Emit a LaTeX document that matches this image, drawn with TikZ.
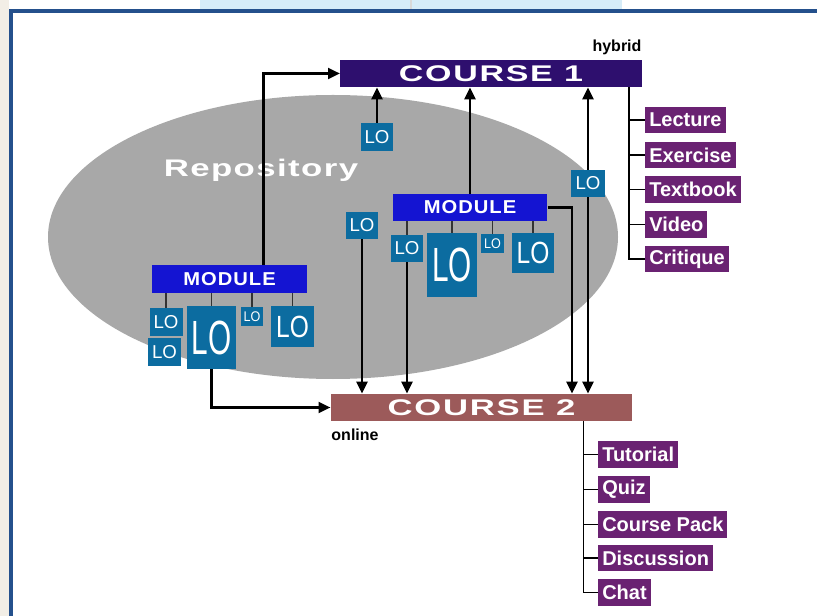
\documentclass[tikz,border=0pt]{standalone}
\usepackage{fontspec}
\setmainfont{Liberation Sans}
\usepackage{graphicx}
\usetikzlibrary{arrows.meta,calc}
\definecolor{framec}{HTML}{24508C}
\definecolor{repoc}{HTML}{A8A8A8}
\definecolor{loc}{HTML}{0C6CA0}
\definecolor{modc}{HTML}{1414D2}
\definecolor{cAc}{HTML}{2E0F6E}
\definecolor{cBc}{HTML}{9C5A5A}
\definecolor{listc}{HTML}{6A2272}
\definecolor{skyc}{HTML}{D6ECF8}
\definecolor{margc}{HTML}{F2EEE6}
\newcommand\LOtxt[2]{\fontsize{#1}{#1}\selectfont\scalebox{#2}[1]{LO}}
\newcommand\spacedtxt[4]{{\fontsize{#1}{#1}\selectfont\bfseries\addfontfeature{LetterSpace=#2}\scalebox{#3}[1]{#4}}}
\begin{document}
\begin{tikzpicture}[x=0.75pt,y=-0.75pt,
  box/.style={inner sep=0pt, text=white},
  course/.style={box, minimum width=226pt, minimum height=20.25pt},
  modbox/.style={box, fill=modc, minimum width=116pt, minimum height=20.5pt},
  lobox/.style 2 args={box, fill=loc, minimum width=#1, minimum height=#2},
  listbox/.style={fill=listc, text=white, anchor=west, inner xsep=3pt, inner ysep=0pt,
    minimum height=20pt, font=\bfseries\fontsize{15}{15}\selectfont},
  arr/.style={line width=2.2pt, -{Triangle[length=9pt,width=8pt]}},
  link/.style={line width=1.4pt, draw=black!80},
  trunk/.style={line width=1.4pt, draw=black},
  tag/.style={font=\bfseries\fontsize{12}{12}\selectfont, inner sep=0pt}]
\useasboundingbox (0,0) rectangle (817,616);
% background
\fill[white] (0,0) rectangle (817,616);
\fill[margc] (0,0) rectangle (8.5,616);
\fill[skyc] (200,0) rectangle (622,9.5);
\draw[line width=0.8pt, draw=black!15] (411,0) -- (411,9.5);
\fill[framec] (8.5,9.5) rectangle (817,13);
\fill[framec] (8.5,9.5) rectangle (12.5,616);
% repository
\fill[repoc] (333,237) ellipse [x radius=213.75pt, y radius=106.5pt];
\node[box] (repo) at (261,170) {\spacedtxt{18}{4}{1.45}{Repository}};
% courses
\node[course, fill=cAc] (c1) at (491,73.5) {\spacedtxt{17}{5}{1.5}{COURSE 1}};
\node[course, fill=cBc] (c2) at (481.5,407.5) {\spacedtxt{17}{5}{1.53}{COURSE 2}};
\node[tag] (hyb) at (617,47) {hybrid};
\node[tag] (onl) at (355,435) {online};
% left module
\node[modbox] (modL) at (229.5,279) {\spacedtxt{14}{5}{1.08}{MODULE}};
\node[lobox={24.75pt}{21pt}] (l1) at (166,322) {\LOtxt{14}{1}};
\node[lobox={24.75pt}{21pt}] (l1b) at (164.5,352) {\LOtxt{14}{1}};
\node[lobox={36.75pt}{47.25pt}] (l2) at (211.5,337.5) {\LOtxt{36}{0.62}};
\node[lobox={16.5pt}{14.25pt}] (l3) at (252,316.5) {\LOtxt{10.5}{0.9}};
\node[lobox={32.25pt}{30.75pt}] (l4) at (292.5,326.5) {\LOtxt{23}{0.8}};
% right module
\node[modbox] (modR) at (470,207.5) {\spacedtxt{14}{5}{1.08}{MODULE}};
\node[lobox={24pt}{20.25pt}] (r1) at (407,248.5) {\LOtxt{14}{1}};
\node[lobox={37.5pt}{48pt}] (r2) at (452,265) {\LOtxt{36}{0.62}};
\node[lobox={17.25pt}{14.25pt}] (r3) at (492.5,243.5) {\LOtxt{10.5}{0.9}};
\node[lobox={31.5pt}{30pt}] (r4) at (533,253) {\LOtxt{23}{0.8}};
% free LOs
\node[lobox={24pt}{21pt}] (loA) at (377,137) {\LOtxt{14}{1}};
\node[lobox={24pt}{20.25pt}] (loB) at (362,225.5) {\LOtxt{14}{1}};
\node[lobox={25.5pt}{20.25pt}] (loC) at (588,183.5) {\LOtxt{14}{1}};
% module links
\foreach \n in {l1,l2,l3,l4} \draw[link] (modL.south -| \n.north) -- (\n.north);
\foreach \n in {r1,r2,r3,r4} \draw[link] (modR.south -| \n.north) -- (\n.north);
% arrows
\draw[arr] ($(modL.north west)!0.72!(modL.north east)$) |- (c1.west);
\draw[arr] (loA.north) -- (loA.north |- c1.south);
\draw[arr] (modR.north) -- (modR.north |- c1.south);
\draw[arr] (loC.north) -- (loC.north |- c1.south);
\draw[arr] (loC.south) -- (loC.south |- c2.north);
\draw[arr] (loB.south) -- (loB.south |- c2.north);
\draw[arr] (r1.south) -- (r1.south |- c2.north);
\coordinate (bendR) at (572,209);
\draw[arr] (modR.east) -| (c2.north -| bendR);
\draw[arr] (l2.south) |- (c2.west);
% course 1 list
\node[listbox] (lec) at (645,120) {Lecture};
\node[listbox] (exe) at (645,155) {Exercise};
\node[listbox] (txt) at (645,189.5) {Textbook};
\node[listbox] (vid) at (645,224.5) {Video};
\node[listbox] (cri) at (645,259) {Critique};
\foreach \n in {lec,exe,txt,vid,cri} \draw[trunk] ($(c1.south east)+(-13,0)$) |- (\n.west);
% course 2 list
\node[listbox] (tut) at (598,454.5) {Tutorial};
\node[listbox] (qui) at (598,489.5) {Quiz};
\node[listbox] (cpk) at (598,524.5) {Course Pack};
\node[listbox] (dis) at (598,558) {Discussion};
\node[listbox] (cha) at (598,592.5) {Chat};
\foreach \n in {tut,qui,cpk,dis,cha} \draw[trunk] ($(c2.south east)+(-49,0)$) |- (\n.west);
\end{tikzpicture}
\end{document}
